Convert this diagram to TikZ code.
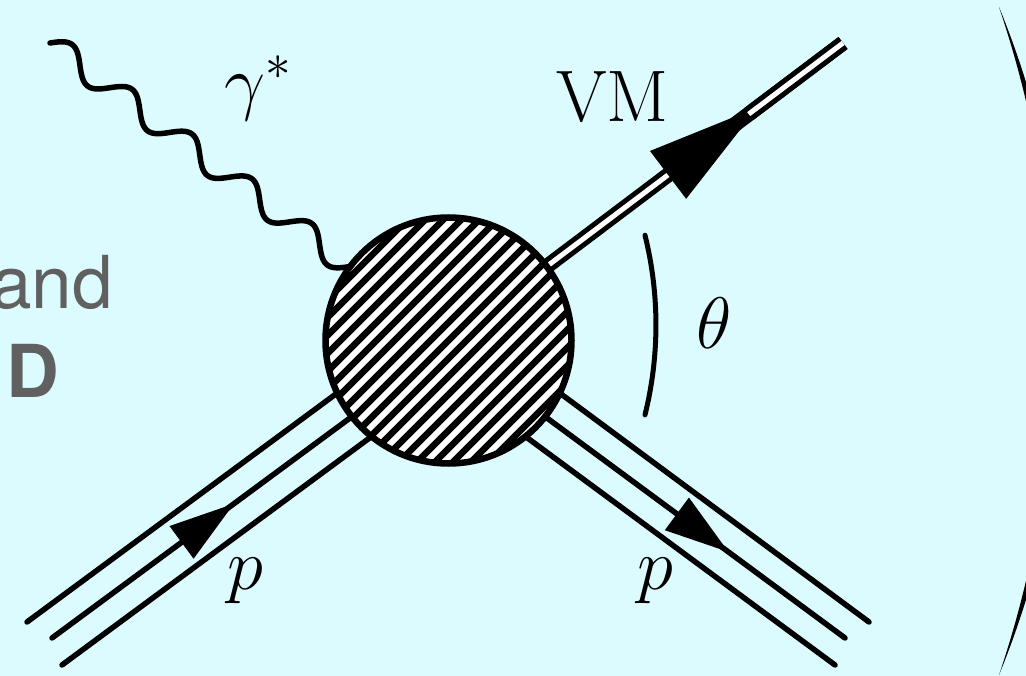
\RequirePackage{fix-cm}
\documentclass[tikz,border=0pt]{standalone}
\usepackage{fontspec}
\newfontfamily\herosfont{TeX Gyre Heros}
\usetikzlibrary{calc}
\definecolor{bgcyan}{RGB}{220,251,255}
\definecolor{txtgray}{RGB}{96,96,96}
\newcommand\dgfont{\fontsize{73}{80}\selectfont}
\begin{document}
\begin{tikzpicture}[x=1pt,y=-1pt,
  ptn/.style={line width=5.5pt, line cap=round},
  photon/.style={line width=5.5pt, line cap=round},
  vmline/.style={double=white, double distance=5pt, line width=5pt, line cap=butt},
  arrowhead/.style={fill=black, draw=none},
  lbl/.style={inner sep=0pt, anchor=base west, font=\dgfont},
  graytxt/.style={inner sep=0pt, anchor=base east, text=txtgray},
  hatchline/.style={line width=6.5pt},
  blobstyle/.style={circle, draw, line width=6.5pt, fill=white, minimum size=246pt, inner sep=0pt,
    path picture={
      \foreach \k in {-13,...,13}{
        \draw[hatchline] ([shift={(\k*9-160,\k*9+160)}]path picture bounding box.center) -- ++(320,-320);
      }}},
  thetaarc/.style={line width=5pt, line cap=round},
]
\useasboundingbox (0,0) rectangle (1026,676);
\clip (0,0) rectangle (1026,676);
\fill[bgcyan] (0,0) rectangle (1026,676);

% coordinates
\coordinate (ctr) at (448.5,340.5);
\coordinate (gstart) at (50,43);
\coordinate (vmend) at (843,43);
\coordinate (pl1end) at (27,622);   \coordinate (pl1in) at (365,372.5);
\coordinate (pl2end) at (52,638);   \coordinate (pl2in) at (390,388.5);
\coordinate (pl3end) at (62,665);   \coordinate (pl3in) at (400,415.5);
\coordinate (pr1end) at (869,622);  \coordinate (pr1in) at (532,372.5);
\coordinate (pr2end) at (845,638);  \coordinate (pr2in) at (507,388.5);
\coordinate (pr3end) at (835,665);  \coordinate (pr3in) at (497,415.5);

% proton lines
\draw[ptn] (pl1end) -- (pl1in);
\draw[ptn] (pl2end) -- (pl2in);
\draw[ptn] (pl3end) -- (pl3in);
\draw[ptn] (pr1end) -- (pr1in);
\draw[ptn] (pr2end) -- (pr2in);
\draw[ptn] (pr3end) -- (pr3in);

% photon
\draw[photon, shift={(gstart)}] plot[domain=0:1, samples=400, smooth, variable=\t]
  ({299.5*\t+7.18*sin(1800*\t)},{223.6*\t-9.62*sin(1800*\t)});

% vector meson line
\draw[vmline] (ctr) -- (vmend);

% blob
\node[blobstyle] (blob) at (ctr) {};

% VM arrow
\coordinate (vmbase) at ($(ctr)!275pt!(vmend)$);
\coordinate (vmtip) at ($(ctr)!387pt!(vmend)$);
\coordinate (vmnotch) at ($(ctr)!376pt!(vmend)$);
\fill[arrowhead] ($(vmbase)!30pt!90:(vmend)$) -- (vmtip) -- ($(vmbase)!30pt!-90:(vmend)$) -- cycle;
\draw[vmline] (vmnotch) -- (vmend);

% proton arrows
\coordinate (plbase) at ($(pl2end)!161pt!(pl2in)$);
\coordinate (pltip) at ($(pl2end)!226pt!(pl2in)$);
\fill[arrowhead] ($(plbase)!20.3pt!90:(pl2in)$) -- (pltip) -- ($(plbase)!20.3pt!-90:(pl2in)$) -- cycle;
\coordinate (prbase) at ($(pr2end)!209pt!(pr2in)$);
\coordinate (prtip) at ($(pr2end)!145pt!(pr2in)$);
\fill[arrowhead] ($(prbase)!20.3pt!90:(pr2in)$) -- (prtip) -- ($(prbase)!20.3pt!-90:(pr2in)$) -- cycle;

% theta arc
\coordinate (thtop) at (645,235.2);
\draw[thetaarc] (thtop) arc[start angle=-13.9, end angle=13.9, radius=374];

% labels
\node[lbl] (gam) at (224,106.4) {$\gamma^*$};
\node[lbl] (vm) at (556,121.5) {VM};
\node[lbl] (th) at (696,349) {$\theta$};
\node[lbl] (pl) at (227,589.4) {$p$};
\node[lbl] (pr) at (637,589.4) {$p$};

% gray side text
\node[graytxt, font=\herosfont\dgfont] (andtxt) at (113,309) {and};
\node[graytxt, font=\herosfont\bfseries\dgfont] (dtxt) at (59.5,398) {D};

% right parenthesis
\fill (999,7) arc[start angle=-22.36, end angle=22.36, radius=878]
  arc[start angle=18.7, end angle=-18.7, radius=1041.6] -- cycle;
\end{tikzpicture}
\end{document}
